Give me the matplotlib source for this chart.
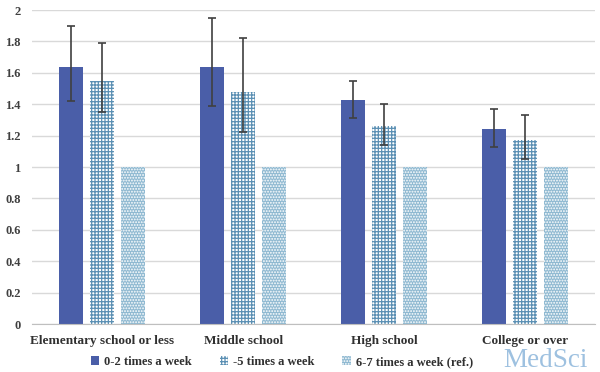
import matplotlib.pyplot as plt
import numpy as np

categories = ["Elementary school or less", "Middle school", "High school", "College or over"]
series_names = ["0-2 times a week", "-5 times a week", "6-7 times a week (ref.)"]
low_freq = [1.64, 1.64, 1.43, 1.24]
low_lo = [1.42, 1.39, 1.31, 1.13]
low_hi = [1.90, 1.95, 1.55, 1.37]
mid_freq = [1.55, 1.48, 1.26, 1.17]
mid_lo = [1.35, 1.22, 1.14, 1.05]
mid_hi = [1.79, 1.82, 1.40, 1.33]
ref_freq = [1.0, 1.0, 1.0, 1.0]
yticks = [0, 0.2, 0.4, 0.6, 0.8, 1, 1.2, 1.4, 1.6, 1.8, 2]

plt.rcParams['font.family'] = ['Liberation Serif', 'DejaVu Serif']
plt.rcParams['hatch.linewidth'] = 0.9

fig = plt.figure(figsize=(6, 3.72), dpi=100)
ax = fig.add_axes([0.053, 0.129, 0.939, 0.844])

x = np.arange(len(categories))
w = 0.17
step = 0.22

low = np.array(low_freq)
mid = np.array(mid_freq)
ax.bar(x - step, low, w, color='#4a5ea8', zorder=2, label=series_names[0])
ax.bar(x, mid, w, facecolor='white', edgecolor='#5a8fb3', hatch='+++++', linewidth=0,
       zorder=2, label=series_names[1])
ax.bar(x + step, ref_freq, w, facecolor='#8fb9d1', edgecolor='white', hatch='......',
       linewidth=0, zorder=2, label=series_names[2])

err_kw = dict(fmt='none', ecolor='#404040', elinewidth=1.2, capsize=3, capthick=1.2, zorder=3)
ax.errorbar(x - step, low, yerr=[low - np.array(low_lo), np.array(low_hi) - low], **err_kw)
ax.errorbar(x, mid, yerr=[mid - np.array(mid_lo), np.array(mid_hi) - mid], **err_kw)

ax.set_ylim(0, 2)
ax.set_xlim(-0.5, len(categories) - 0.5)
ax.set_yticks(yticks)
ax.set_yticklabels([f"{t:g}" for t in yticks], fontsize=9, fontweight='bold', color='#404040')
ax.set_xticks(x)
ax.set_xticklabels(categories, fontsize=9.5, fontweight='bold', color='#303030')
ax.tick_params(axis='x', length=0, pad=8)
ax.tick_params(axis='y', length=0, pad=8)
ax.grid(axis='y', color='#d9d9d9', linewidth=1, zorder=0)
for s in ['left', 'right', 'top']:
    ax.spines[s].set_visible(False)
ax.spines['bottom'].set_color('#bfbfbf')

leg = fig.legend(loc='lower center', bbox_to_anchor=(0.47, -0.02), ncol=3, frameon=False,
                 prop={'size': 9, 'weight': 'bold'}, handlelength=0.7, handleheight=0.7,
                 columnspacing=2.2, handletextpad=0.4)
for t in leg.get_texts():
    t.set_color('#303030')

fig.text(0.838, 0.013, "MedSci", fontsize=19.5, color='#9ec1e0', ha='left', va='baseline',
         family=['Liberation Serif'])

fig.savefig("out.png", dpi=100)
